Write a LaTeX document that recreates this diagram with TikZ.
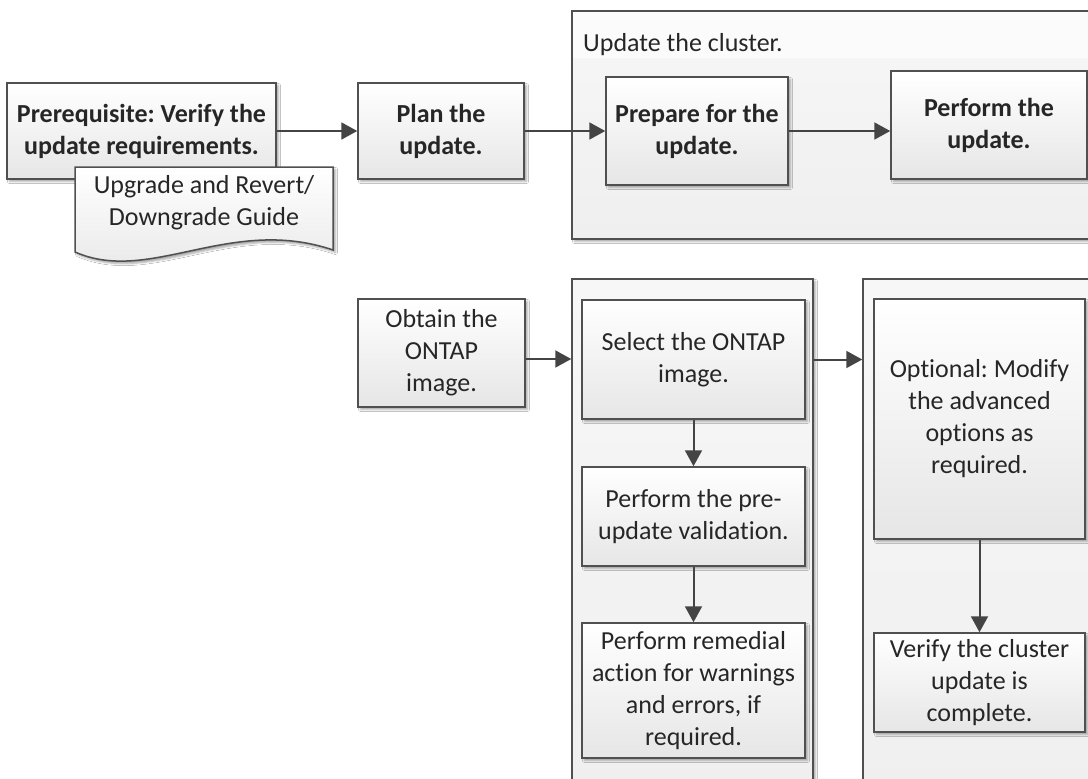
\documentclass[tikz,border=0pt]{standalone}
\usepackage{fontspec}
\setmainfont{Carlito}[Ligatures=NoCommon]
\frenchspacing
\usetikzlibrary{arrows.meta,shadows.blur}
\definecolor{edge}{HTML}{505050}
\definecolor{arr}{HTML}{444444}
\definecolor{txt}{HTML}{262626}
\definecolor{boxbot}{HTML}{E6E6E6}
\definecolor{grptop}{HTML}{F7F7F7}
\definecolor{grpbot}{HTML}{EFEFEF}
\definecolor{band}{HTML}{FBFBFB}
\tikzset{
  softshadow/.style={blur shadow={shadow xshift=2.5pt, shadow yshift=-2.5pt, shadow blur radius=2pt, shadow opacity=35}},
  stepbox/.style={draw=edge, line width=1.5pt, top color=white, bottom color=boxbot,
    align=center, inner sep=0pt, text=txt, font=\fontsize{26}{32}\selectfont, softshadow},
  boldbox/.style={stepbox, font=\fontsize{26}{32}\selectfont\bfseries},
  grp/.style={draw=edge, line width=1.5pt, top color=grptop, bottom color=grpbot, inner sep=0pt, softshadow},
  flow/.style={draw=arr, line width=2pt, -{Triangle[length=16pt,width=17pt]}},
  lbl/.style={text=txt, inner sep=0pt, font=\fontsize{26}{32}\selectfont},
}
\begin{document}
\begin{tikzpicture}[x=1pt,y=-1pt]
\useasboundingbox (0,0) rectangle (1088,779);
\clip (0,0) rectangle (1088,779);
\fill[white] (0,0) rectangle (1088,779);

% containers
\node[grp, minimum width=528pt, minimum height=228pt] (g1) at (836,125) {};
\fill[band] (573,12) rectangle (1099,58);
\node[lbl, anchor=west] (title) at (583,45) {Update the cluster.};
\node[grp, minimum width=241pt, minimum height=521pt] (g2) at (692.5,539.5) {};
\node[grp, minimum width=237pt, minimum height=521pt] (g3) at (981.5,539.5) {};

% top row
\node[boldbox, minimum width=269pt, minimum height=96pt] (prereq) at (141.5,131) {Prerequisite: Verify the\\update requirements.};
\path[draw=edge, line width=1.5pt, top color=white, bottom color=boxbot, softshadow]
  (75,167) -- (333,167) -- (333,250) .. controls (230,215) and (150,285) .. (75,252) -- cycle;
\node[lbl, align=center] (doc) at (204,203) {Upgrade and Revert/\\Downgrade Guide};
\node[boldbox, minimum width=166pt, minimum height=96pt] (plan) at (441,131) {Plan the\\update.};
\node[boldbox, minimum width=182pt, minimum height=108pt] (prepare) at (697,131) {Prepare for the\\update.};
\node[boldbox, minimum width=196pt, minimum height=108pt] (perform) at (989,125) {Perform the\\update.};

% lower row
\node[stepbox, minimum width=167pt, minimum height=108pt] (obtain) at (441.5,353) {Obtain the\\ONTAP\\image.};
\node[stepbox, minimum width=223pt, minimum height=119pt] (select) at (693.5,359.5) {Select the ONTAP\\image.};
\node[stepbox, minimum width=223pt, minimum height=99pt] (pre) at (693.5,516.5) {Perform the pre-\\update validation.};
\node[stepbox, minimum width=223pt, minimum height=135pt] (rem) at (693.5,690.5) {Perform remedial\\action for warnings\\and errors, if\\required.};
\node[stepbox, minimum width=211pt, minimum height=240pt] (opt) at (979.5,419) {Optional: Modify\\the advanced\\options as\\required.};
\node[stepbox, minimum width=211pt, minimum height=99pt] (verify) at (979.5,682.5) {Verify the cluster\\update is\\complete.};

% connectors
\draw[flow] (prereq) -- (plan);
\draw[flow] (plan) -- (prepare);
\draw[flow] (prepare.east) -- (prepare.east -| perform.west);
\draw[flow] ([yshift=-6pt]obtain.east) -- ([yshift=-6pt]obtain.east -| g2.west);
\draw[flow] (g2.east |- select.east) -- (g3.west |- select.east);
\draw[flow] (select) -- (pre);
\draw[flow] (pre) -- (rem);
\draw[flow] (opt) -- (verify);
\end{tikzpicture}
\end{document}
